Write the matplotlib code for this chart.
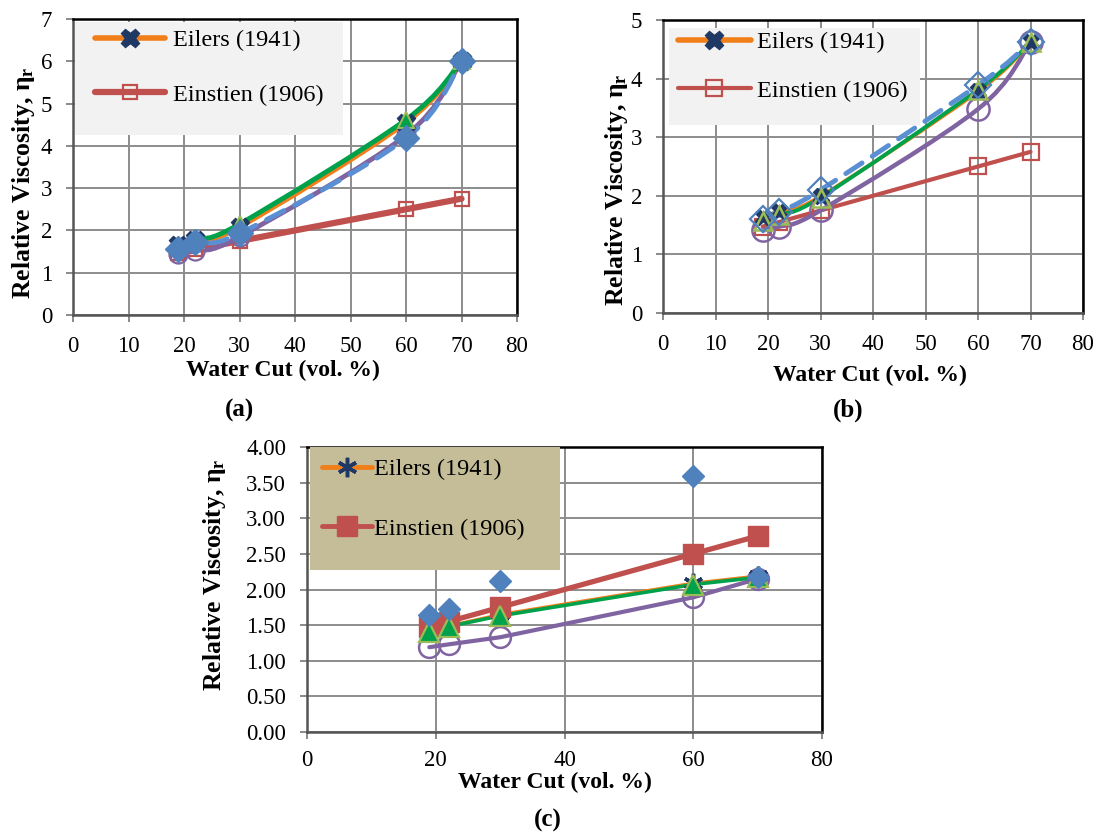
import matplotlib
matplotlib.use("Agg")
import matplotlib.pyplot as plt
from matplotlib.path import Path
from matplotlib.patches import PathPatch, Rectangle
from matplotlib.lines import Line2D
import numpy as np

plt.rcParams['font.family'] = ['Liberation Serif', 'DejaVu Serif']
plt.rcParams['mathtext.fontset'] = 'custom'
plt.rcParams['mathtext.rm'] = 'Liberation Serif'
plt.rcParams['mathtext.bf'] = 'Liberation Serif:bold'
plt.rcParams['mathtext.it'] = 'Liberation Serif:italic'

# Water cut (vol. %) shared by all three panels
water_cut = [19, 22, 30, 60, 70]

# (a)
exp_a = [1.57, 1.73, 1.93, 4.18, 6.00]
eilers_a = [1.66, 1.78, 2.08, 4.55, 6.00]
green_a = [1.65, 1.78, 2.15, 4.62, 6.00]
purple_a = [1.45, 1.52, 1.85, 4.25, 6.00]

# (b)
exp_b = [1.61, 1.73, 2.10, 3.89, 4.62]
eilers_b = [1.63, 1.74, 1.99, 3.78, 4.62]
green_b = [1.57, 1.68, 1.97, 3.81, 4.62]
purple_b = [1.41, 1.47, 1.75, 3.48, 4.62]

# (c)
exp_c = [1.64, 1.72, 2.12, 3.60, 2.17]
eilers_c = [1.42, 1.49, 1.65, 2.09, 2.19]
green_c = [1.41, 1.48, 1.63, 2.07, 2.17]
purple_c = [1.19, 1.23, 1.33, 1.89, 2.15]

# Einstein (1906) prediction, same in every panel
einstein = [1.475, 1.55, 1.75, 2.50, 2.75]

legend_labels = ['Eilers (1941)', 'Einstien (1906)']

BLUE = '#4f81bd'
DASH = '#5b8fd4'
ORANGE = '#f07f1a'
NAVY = '#1f3864'
RED = '#c0504d'
GREEN = '#00a14b'
LGREEN = '#9bbb59'
PURPLE = '#8064a2'
GRID = '#8c8c8c'

W, H = 1099.0, 833.0
LEG_FS = 17.5

fig = plt.figure(figsize=(W / 100, H / 100), dpi=100)


def fx(px):
    return px / W


def fy(py):
    return 1 - py / H


def smooth_path(x, y):
    """Catmull-Rom style bezier through the points (spreadsheet 'smoothed line')."""
    pts = np.column_stack([x, y]).astype(float)
    n = len(pts)
    verts = [pts[0]]
    codes = [Path.MOVETO]
    for i in range(n - 1):
        p0 = pts[max(i - 1, 0)]
        p1 = pts[i]
        p2 = pts[i + 1]
        p3 = pts[min(i + 2, n - 1)]
        verts += [p1 + (p2 - p0) / 6.0, p2 - (p3 - p1) / 6.0, p2]
        codes += [Path.CURVE4] * 3
    return Path(verts, codes)


def add_curve(ax, x, y, smooth, z, **kw):
    if smooth:
        ax.add_patch(PathPatch(smooth_path(x, y), fill=False, zorder=z,
                               capstyle='round', joinstyle='round', **kw))
    else:
        ax.plot(x, y, zorder=z, solid_capstyle='round', **kw)


def make_axes(l, t, r, b, ymax, ystep, xstep, yfmt, xpad=10):
    ax = fig.add_axes([fx(l), fy(b), (r - l) / W, (b - t) / H])
    yt = np.arange(0, ymax + 1e-9, ystep)
    ax.set_xlim(0, 80)
    ax.set_ylim(0, ymax)
    ax.set_xticks(np.arange(0, 81, xstep))
    ax.set_yticks(yt)
    ax.set_yticklabels([yfmt.format(v) for v in yt])
    ax.grid(True, color=GRID, lw=1.4)
    ax.set_axisbelow(True)
    for s in ax.spines.values():
        s.set_color('black')
        s.set_linewidth(1.8)
    ax.spines['left'].set_color('#555555')
    ax.spines['bottom'].set_color('#555555')
    ax.tick_params(direction='out', length=5, width=1.2, color='#777777',
                   labelsize=16.5, pad=10)
    ax.tick_params(axis='x', pad=xpad)
    return ax


def legend_box(ax, rect, row1_y, x_handle, handles, color, hlen, tpad, lspace):
    l, t, r, b = rect
    ax.add_artist(Rectangle((fx(l), fy(b)), (r - l) / W, (b - t) / H,
                            transform=fig.transFigure, facecolor=color,
                            edgecolor='none', zorder=9, clip_on=False))
    leg = ax.legend(handles, legend_labels, loc='upper left',
                    bbox_to_anchor=(fx(x_handle), fy(row1_y - 9)),
                    bbox_transform=fig.transFigure, fontsize=LEG_FS,
                    frameon=False, handlelength=hlen, handletextpad=tpad,
                    labelspacing=lspace, borderpad=0, borderaxespad=0)
    leg.set_zorder(10)


def labels(ylab_xy, xlab_xy, tag, tag_xy):
    fig.text(fx(ylab_xy[0]), fy(ylab_xy[1]), 'Relative Viscosity, η$_{\\mathbf{r}}$',
             rotation=90, ha='center', va='center', fontsize=18.5, fontweight='bold')
    fig.text(fx(xlab_xy[0]), fy(xlab_xy[1]), 'Water Cut (vol. %)',
             ha='center', va='center', fontsize=17, fontweight='bold')
    fig.text(fx(tag_xy[0]), fy(tag_xy[1]), tag, ha='center', va='center',
             fontsize=18, fontweight='bold')


# ---------------- (a) ----------------
ax = make_axes(73, 19, 517, 315, 7, 1, 10, '{:.0f}')
add_curve(ax, water_cut, einstein, True, 3, color=RED, lw=4.5)
add_curve(ax, water_cut, purple_a, True, 3, color=PURPLE, lw=3.5)
add_curve(ax, water_cut, eilers_a, True, 4, color=ORANGE, lw=3.5)
add_curve(ax, water_cut, green_a, True, 4, color=GREEN, lw=3.5)
add_curve(ax, water_cut, exp_a, True, 5, color=DASH, lw=3.5, ls=(0, (4, 2.5)))
ax.plot(water_cut, einstein, ls='none', marker='s', ms=10, mfc='none', mec=RED, mew=1.6, zorder=6)
ax.plot(water_cut, purple_a, ls='none', marker='o', ms=13, mfc='none', mec=PURPLE, mew=1.6, zorder=6)
ax.plot(water_cut, eilers_a, ls='none', marker='X', ms=13, mfc=NAVY, mec=NAVY, zorder=6)
ax.plot(water_cut, green_a, ls='none', marker='^', ms=12, mfc=GREEN, mec=LGREEN, mew=1.5, zorder=6)
ax.plot(water_cut, exp_a, ls='none', marker='D', ms=13, mfc=BLUE, mec=BLUE, zorder=7)
handles = [Line2D([], [], color=ORANGE, lw=4, solid_capstyle='round',
                  marker='X', ms=13, mfc=NAVY, mec=NAVY),
           Line2D([], [], color=RED, lw=4.5, solid_capstyle='round',
                  marker='s', ms=10, mfc='none', mec=RED, mew=1.6)]
legend_box(ax, (75, 22, 343, 135), 38, 95, handles, '#f2f2f2', 2.9, 0.3, 1.35)
labels((24, 183), (283, 370), '(a)', (240, 410))

# ---------------- (b) ----------------
ax = make_axes(663, 20, 1083, 313, 5, 1, 10, '{:.0f}')
add_curve(ax, water_cut, einstein, True, 3, color=RED, lw=3)
add_curve(ax, water_cut, purple_b, True, 3, color=PURPLE, lw=3.2)
add_curve(ax, water_cut, eilers_b, True, 4, color=ORANGE, lw=2.8)
add_curve(ax, water_cut, green_b, True, 4, color=GREEN, lw=2.8)
add_curve(ax, water_cut, exp_b, True, 5, color=DASH, lw=3.5, ls=(0, (4, 2.5)))
ax.plot(water_cut, einstein, ls='none', marker='s', ms=12, mfc='none', mec=RED, mew=1.6, zorder=6)
ax.plot(water_cut, purple_b, ls='none', marker='o', ms=16, mfc='none', mec=PURPLE, mew=1.8, zorder=6)
ax.plot(water_cut, eilers_b, ls='none', marker='X', ms=11, mfc=NAVY, mec=NAVY, zorder=6)
ax.plot(water_cut, green_b, ls='none', marker='^', ms=13, mfc='none', mec=LGREEN, mew=1.8, zorder=6)
ax.plot(water_cut, exp_b, ls='none', marker='D', ms=13, mfc='none', mec=BLUE, mew=1.6, zorder=7)
handles = [Line2D([], [], color=ORANGE, lw=4, solid_capstyle='round',
                  marker='X', ms=13, mfc=NAVY, mec=NAVY),
           Line2D([], [], color=RED, lw=3, solid_capstyle='round',
                  marker='s', ms=12, mfc='none', mec=RED, mew=1.6)]
legend_box(ax, (669, 28, 920, 125), 40, 678, handles, '#f2f2f2', 3.0, 0.25, 1.1)
labels((616, 190), (870, 375), '(b)', (848, 410))

# ---------------- (c) ----------------
ax = make_axes(307, 447, 822, 732, 4, 0.5, 20, '{:.2f}', xpad=8)
add_curve(ax, water_cut, purple_c, False, 3, color=PURPLE, lw=3)
add_curve(ax, water_cut, eilers_c, False, 4, color=ORANGE, lw=2.2)
add_curve(ax, water_cut, green_c, False, 4, color=GREEN, lw=2.6)
add_curve(ax, water_cut, einstein, False, 4, color=RED, lw=3.8)
ax.plot(water_cut, purple_c, ls='none', marker='o', ms=15, mfc='none', mec=PURPLE, mew=1.8, zorder=6)
ax.plot(water_cut, eilers_c, ls='none', marker=(6, 2, 0), ms=14, mec=NAVY, mew=2.5, zorder=6)
ax.plot(water_cut, einstein, ls='none', marker='s', ms=15, mfc=RED, mec=RED, zorder=6)
ax.plot(water_cut, green_c, ls='none', marker='^', ms=14, mfc=GREEN, mec=LGREEN, mew=1.6, zorder=7)
ax.plot(water_cut, exp_c, ls='none', marker='D', ms=11, mfc=BLUE, mec=BLUE, zorder=8)
handles = [Line2D([], [], color=ORANGE, lw=3.5, solid_capstyle='round',
                  marker=(6, 2, 0), ms=14, mec=NAVY, mew=2.5),
           Line2D([], [], color=RED, lw=3.5, solid_capstyle='round',
                  marker='s', ms=15, mfc=RED, mec=RED)]
legend_box(ax, (310, 447, 560, 570), 467, 322, handles, '#c4bd97', 2.05, 0.1, 1.55)
labels((215, 575), (555, 782), '(c)', (548, 820))

fig.savefig('out.png', dpi=100, facecolor='white')
